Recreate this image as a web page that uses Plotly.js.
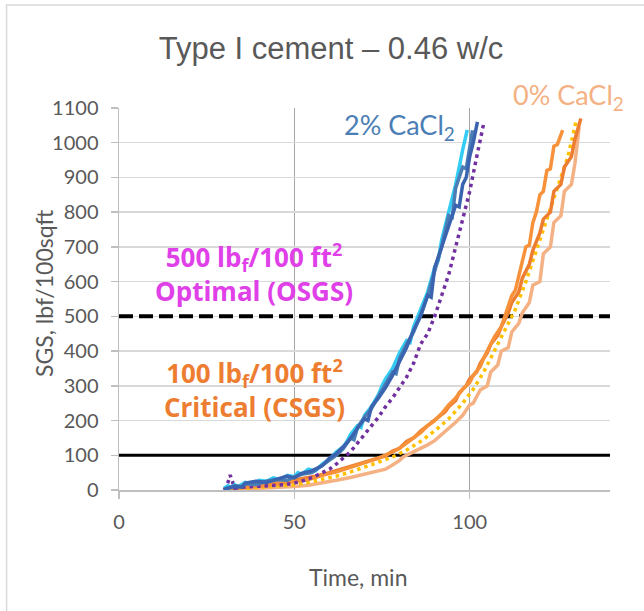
<!DOCTYPE html>
<html>
<head>
<meta charset="utf-8">
<script src="https://cdn.plot.ly/plotly-3.0.1.min.js"></script>
<style>html,body{margin:0;padding:0;background:#fff}#chart{width:644px;height:611px}</style>
</head>
<body>
<div id="chart"></div>
<script>
// ---- data (time in min, SGS in lbf/100sqft) ----
const lightBlueX = [30,31,32,33,34,36,38,40,42,44,46,48,50,51,52,54,56,58,60,61,62,64,65,66,68,69,70,72,74,75,76,78,80,82,83,84,86,87,88,90,91,92,94,95,96,98,99.3];
const lightBlueY = [5,12,8,15,10,22,18,28,25,35,30,42,38,50,45,60,55,75,88,100,110,125,140,160,185,180,215,240,275,300,320,350,395,430,425,470,520,540,570,640,660,720,800,830,880,980,1037];

const steelBlueX = [30,32,33,35,36,39,42,45,48,50,52,55,58,60,62,64,66,67,68,70,72,74,76,78,79,80,82,84,86,88,90,92,94,95,96,98,99,100.8];
const steelBlueY = [0,8,12,10,18,15,25,30,28,38,45,50,72,85,100,120,150,145,180,210,235,270,305,340,335,380,420,455,505,560,630,700,790,785,870,930,925,1036];

const darkBlueX = [30,31,33,35,36,39,42,45,48,50,52,55,58,60,62,64,66,68,70,71,72,74,76,78,80,82,84,86,88,89,90,92,94,96,97,98,99,100,101,102.2];
const darkBlueY = [2,6,10,8,20,25,22,32,40,35,48,55,70,92,105,125,148,178,205,200,240,265,295,330,370,410,460,500,560,555,640,700,760,820,815,880,900,960,1000,1060];

const purpleX = [30,31,31.7,33,35,38,41,44,47,50,53,56,58,60,62,64,66,68,70,72,74,76,78,80,82,84,86,88,90,92,94,96,98,100,102,104];
const purpleY = [0,20,43,5,8,10,12,15,15,20,28,40,50,60,75,92,110,135,160,185,210,240,265,295,325,365,420,450,500,560,620,700,780,860,960,1056];

const darkOrangeX = [30,33,36,40,44,48,52,56,60,64,68,72,76,78,80,82,84,86,88,90,91,93,94,96,97,99,100,102,103,105,106,108,109,111,112,114,115,117,118,120,121,123,124,126,127,129,130,131.7];
const darkOrangeY = [0,10,8,15,18,25,32,40,50,62,75,88,98,112,120,140,150,170,185,200,210,225,240,258,280,300,320,340,365,395,420,445,470,510,540,570,610,650,690,740,780,800,860,880,930,960,1010,1070];

const brightOrangeX = [30,34,38,42,46,50,54,58,62,66,70,74,78,80,82,84,86,88,90,92,94,96,98,100,101,103,104,106,107,109,110,111,112,113,114,115,116,117,118,119,120,121,122,123,124,125,126.5];
const brightOrangeY = [0,5,10,12,18,22,30,42,52,65,78,92,110,120,135,150,165,185,200,220,245,265,290,310,330,355,380,420,440,470,500,530,560,575,620,660,700,705,770,800,850,860,920,925,990,995,1036];

const yellowX = [30,34,38,42,46,50,54,58,62,66,70,74,78,82,86,90,94,98,101,104,107,110,113,116,119,122,125,128,130.3];
const yellowY = [0,3,5,8,12,15,22,30,40,52,65,80,95,115,140,170,205,250,290,340,400,460,520,600,690,780,870,960,1060];

const peachX = [30,34,38,42,46,50,54,58,62,66,70,74,76,78,80,81,84,86,88,90,92,94,96,98,100,101,103,105,106,108,109,111,112,114,115,117,118,120,121,123,124,126,127,129,130,131.2];
const peachY = [0,2,5,5,8,10,14,20,28,36,45,55,60,72,85,95,110,118,130,142,160,175,195,215,245,250,288,300,340,360,400,410,455,480,510,540,590,600,680,700,770,790,860,880,940,1046];

const limitX = [0, 140];
const csgsY = [100, 100];
const osgsY = [500, 500];

const xTicks = [0, 50, 100];
const yTicks = [0,100,200,300,400,500,600,700,800,900,1000,1100];

const titleText = 'Type I cement – 0.46 w/c';
const xTitle = 'Time, min';
const yTitle = 'SGS, lbf/100sqft';
const osgsLabel = '<b>500 lb<sub>f</sub>/100 ft<sup>2</sup><br>Optimal (OSGS)</b>';
const csgsLabel = '<b>100 lb<sub>f</sub>/100 ft<sup>2</sup><br>Critical (CSGS)</b>';
const label2 = '2% CaCl<sub>2</sub>';
const label0 = '0% CaCl<sub>2</sub>';

// ---- traces ----
function solid(x, y, color) {
  return {x: x, y: y, mode: 'lines', type: 'scatter', line: {color: color, width: 3.5}, hoverinfo: 'skip'};
}
function dotted(x, y, color) {
  return {x: x, y: y, mode: 'lines', type: 'scatter', line: {color: color, width: 3.5, dash: '3.5px,4px'}, hoverinfo: 'skip'};
}
const traces = [
  {x: limitX, y: csgsY, mode: 'lines', type: 'scatter', line: {color: '#000000', width: 3}, hoverinfo: 'skip'},
  {x: limitX, y: osgsY, mode: 'lines', type: 'scatter', line: {color: '#000000', width: 4, dash: '14px,6px'}, hoverinfo: 'skip'},
  solid(peachX, peachY, '#F4B183'),
  dotted(yellowX, yellowY, '#FFC000'),
  solid(darkOrangeX, darkOrangeY, '#ED7D31'),
  solid(brightOrangeX, brightOrangeY, '#F7923A'),
  dotted(purpleX, purpleY, '#7030A0'),
  solid(lightBlueX, lightBlueY, '#33CCF5'),
  solid(steelBlueX, steelBlueY, '#4A7EB5'),
  solid(darkBlueX, darkBlueY, '#3B64B0')
];

const gray = '#595959';
const boldFont = '"Open Sans", "Noto Sans", sans-serif';
const layout = {
  width: 644, height: 611,
  margin: {l: 119, r: 34, t: 108, b: 121, pad: 0},
  paper_bgcolor: '#ffffff', plot_bgcolor: '#ffffff',
  showlegend: false,
  font: {family: 'Lato, "Open Sans", sans-serif', color: gray},
  title: {text: titleText, x: 0.514, xanchor: 'center', y: 0.921, yanchor: 'middle',
          font: {family: '"Liberation Sans", Arial, sans-serif', size: 31, color: gray}},
  xaxis: {
    range: [0, 140], tickvals: xTicks, ticktext: xTicks.map(String),
    showgrid: true, gridcolor: '#A6A6A6', gridwidth: 1,
    showline: true, linecolor: '#BFBFBF', linewidth: 1.5,
    ticks: 'outside', ticklen: 7, tickcolor: '#BFBFBF', tickwidth: 1.5,
    ticklabelstandoff: 6,
    zeroline: false, tickfont: {size: 20, color: gray}
  },
  yaxis: {
    range: [0, 1100], tickvals: yTicks, ticktext: yTicks.map(String),
    showgrid: true, gridcolor: '#D9D9D9', gridwidth: 1.5,
    showline: true, linecolor: '#BFBFBF', linewidth: 1.5,
    ticks: 'outside', ticklen: 7, tickcolor: '#BFBFBF', tickwidth: 1.5,
    ticklabelstandoff: 8,
    zeroline: false, tickfont: {size: 20, color: gray}
  },
  annotations: [
    {xref: 'paper', yref: 'paper', x: (358 - 119) / 491, y: (490 - 577) / 382, text: xTitle, showarrow: false,
     font: {size: 23, color: gray}, xanchor: 'center', yanchor: 'middle'},
    {xref: 'paper', yref: 'paper', x: (44 - 119) / 491, y: (490 - 293) / 382, text: yTitle, showarrow: false, textangle: -90,
     font: {size: 23, color: gray}, xanchor: 'center', yanchor: 'middle'},
    {xref: 'x', yref: 'y', x: 38.5, y: 626, text: osgsLabel, showarrow: false, align: 'center',
     font: {family: boldFont, size: 26, color: '#E040E8'}, xanchor: 'center', yanchor: 'middle'},
    {xref: 'x', yref: 'y', x: 38.5, y: 290, text: csgsLabel, showarrow: false, align: 'center',
     font: {family: boldFont, size: 26, color: '#ED7D31'}, xanchor: 'center', yanchor: 'middle'},
    {xref: 'paper', yref: 'paper', x: (399 - 119) / 491, y: (490 - 127) / 382, text: label2, showarrow: false,
     font: {size: 27, color: '#4A7EB5'}, xanchor: 'center', yanchor: 'middle'},
    {xref: 'paper', yref: 'paper', x: (568 - 119) / 491, y: (490 - 97) / 382, text: label0, showarrow: false,
     font: {size: 27, color: '#F4B183'}, xanchor: 'center', yanchor: 'middle'}
  ],
  shapes: [
    {type: 'rect', xref: 'paper', yref: 'paper', x0: -0.229, x1: 1.1, y0: -0.35, y1: 1.2695,
     line: {color: '#D9D9D9', width: 1.5}, fillcolor: 'rgba(0,0,0,0)', layer: 'below'}
  ]
};

Plotly.newPlot('chart', traces, layout, {staticPlot: true, displayModeBar: false});
</script>
</body>
</html>
